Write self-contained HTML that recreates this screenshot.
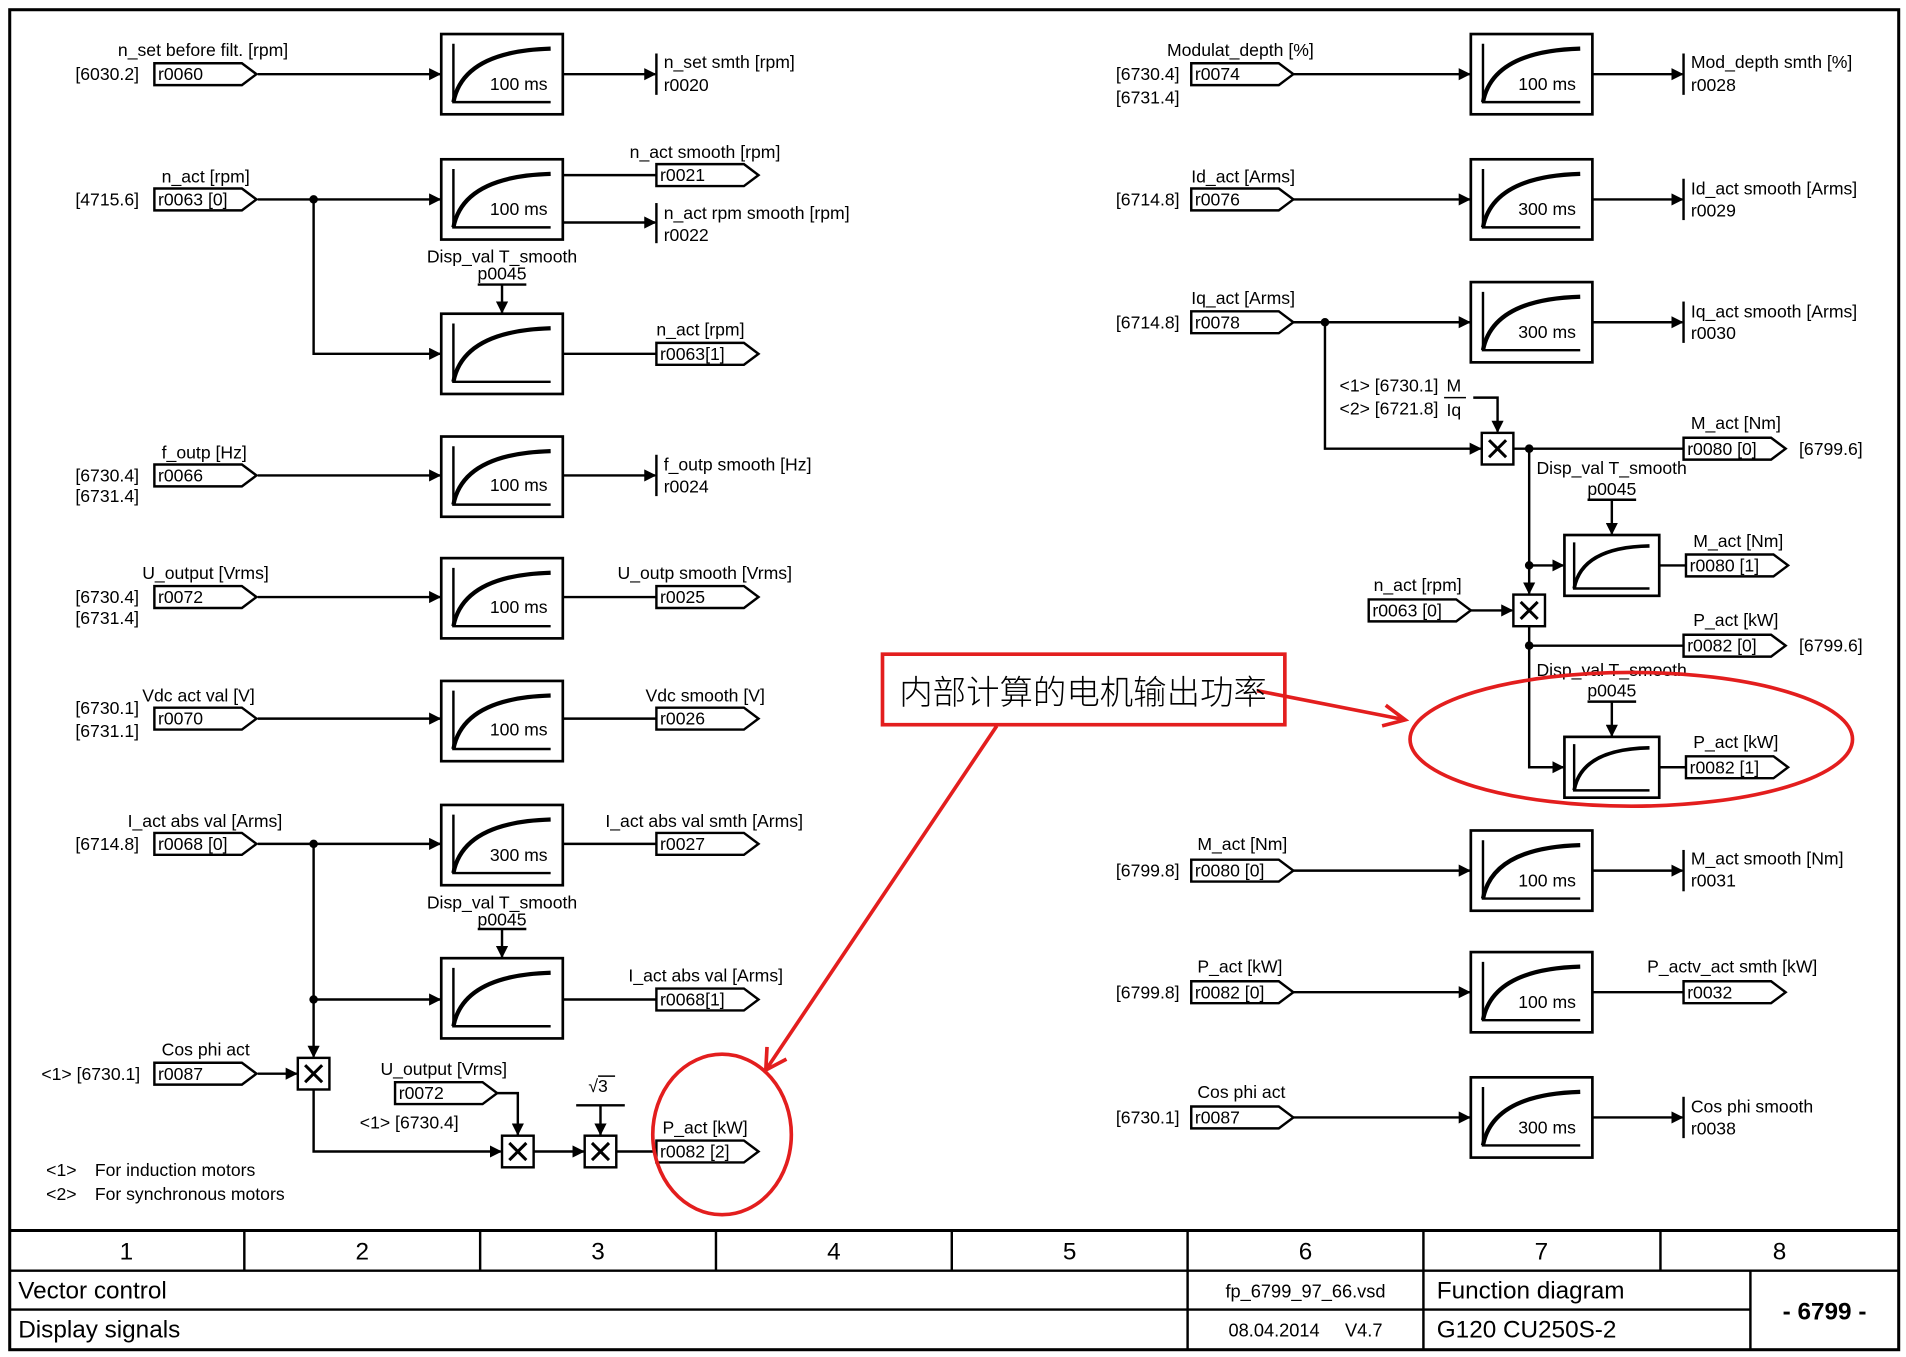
<!DOCTYPE html>
<html><head><meta charset="utf-8"><style>
html,body{margin:0;padding:0;background:#fff;}
svg{display:block;}
text{font-family:"Liberation Sans",Arial,sans-serif;font-size:14.5px;fill:#000;}
.ft{font-size:20px;}
</style></head><body>
<svg width="1906" height="1357" viewBox="0 0 1568 1116" preserveAspectRatio="none" xmlns="http://www.w3.org/2000/svg">
<defs>
<marker id="a" markerWidth="10" markerHeight="10" refX="9" refY="5" orient="auto" markerUnits="userSpaceOnUse"><path d="M0,0 L10,5 L0,10 Z" fill="#000"/></marker>
<g id="blk"><rect x="0" y="0" width="100" height="66" fill="#fff" stroke="#000" stroke-width="2.2"/><path d="M10,8 V56 H90" fill="none" stroke="#000" stroke-width="2"/><path d="M10,56 Q18,14 90,12" fill="none" stroke="#000" stroke-width="3.5"/></g>
<g id="sblk"><rect x="0" y="0" width="78" height="50" fill="#fff" stroke="#000" stroke-width="2.2"/><path d="M8,6 V44 H70" fill="none" stroke="#000" stroke-width="2"/><path d="M8,44 Q14,10 70,9" fill="none" stroke="#000" stroke-width="3"/></g>
<path id="tag" d="M0,0 H72 L84,9 L72,18 H0 Z" fill="#fff" stroke="#000" stroke-width="2"/>
<g id="mul"><rect x="-13" y="-13" width="26" height="26" fill="#fff" stroke="#000" stroke-width="2"/><path d="M-7,-7 L7,7 M7,-7 L-7,7" stroke="#000" stroke-width="2.5"/></g>
</defs>
<rect x="8" y="8" width="1554" height="1102" fill="none" stroke="#000" stroke-width="2.5"/>
<g stroke="#000" stroke-width="2" fill="none">
<line x1="212" y1="61" x2="362" y2="61" marker-end="url(#a)"/>
<line x1="463" y1="61" x2="539" y2="61" marker-end="url(#a)"/>
<line x1="212" y1="164" x2="362" y2="164" marker-end="url(#a)"/>
<line x1="463" y1="144" x2="540" y2="144"/>
<line x1="463" y1="183" x2="539" y2="183" marker-end="url(#a)"/>
<line x1="393" y1="234" x2="433" y2="234"/><line x1="413" y1="234" x2="413" y2="257" marker-end="url(#a)"/>
<polyline points="258,164 258,291 362,291" marker-end="url(#a)"/>
<line x1="463" y1="291" x2="540" y2="291"/>
<line x1="212" y1="391" x2="362" y2="391" marker-end="url(#a)"/>
<line x1="463" y1="391" x2="539" y2="391" marker-end="url(#a)"/>
<line x1="212" y1="491" x2="362" y2="491" marker-end="url(#a)"/>
<line x1="463" y1="491" x2="540" y2="491"/>
<line x1="212" y1="591" x2="362" y2="591" marker-end="url(#a)"/>
<line x1="463" y1="591" x2="540" y2="591"/>
<line x1="212" y1="694" x2="362" y2="694" marker-end="url(#a)"/>
<line x1="463" y1="694" x2="540" y2="694"/>
<line x1="393" y1="764" x2="433" y2="764"/><line x1="413" y1="764" x2="413" y2="787" marker-end="url(#a)"/>
<line x1="258" y1="694" x2="258" y2="869" marker-end="url(#a)"/>
<line x1="258" y1="822" x2="362" y2="822" marker-end="url(#a)"/>
<line x1="463" y1="822" x2="540" y2="822"/>
<line x1="212" y1="883" x2="244" y2="883" marker-end="url(#a)"/>
<polyline points="258,896 258,947 412,947" marker-end="url(#a)"/>
<polyline points="409,899 426,899 426,933" marker-end="url(#a)"/>
<line x1="439" y1="947" x2="480" y2="947" marker-end="url(#a)"/>
<line x1="474" y1="909" x2="514" y2="909"/><line x1="494" y1="909" x2="494" y2="933" marker-end="url(#a)"/>
<line x1="507" y1="947" x2="540" y2="947"/>
<line x1="540" y1="44" x2="540" y2="78"/><line x1="540" y1="167" x2="540" y2="200"/><line x1="540" y1="374" x2="540" y2="408"/>
<line x1="1385" y1="44" x2="1385" y2="78"/><line x1="1385" y1="147" x2="1385" y2="181"/><line x1="1385" y1="248" x2="1385" y2="282"/>
<line x1="1385" y1="699" x2="1385" y2="733"/><line x1="1385" y1="902" x2="1385" y2="936"/>
<line x1="1064" y1="61" x2="1209" y2="61" marker-end="url(#a)"/>
<line x1="1308" y1="61" x2="1384" y2="61" marker-end="url(#a)"/>
<line x1="1064" y1="164" x2="1209" y2="164" marker-end="url(#a)"/>
<line x1="1308" y1="164" x2="1384" y2="164" marker-end="url(#a)"/>
<line x1="1064" y1="265" x2="1209" y2="265" marker-end="url(#a)"/>
<line x1="1308" y1="265" x2="1384" y2="265" marker-end="url(#a)"/>
<polyline points="1090,265 1090,369 1218,369" marker-end="url(#a)"/>
<line x1="1188" y1="327" x2="1206" y2="327" stroke-width="1.3"/>
<polyline points="1212,327 1232,327 1232,355" marker-end="url(#a)"/>
<line x1="1245" y1="369" x2="1385" y2="369"/>
<line x1="1306" y1="411" x2="1346" y2="411"/><line x1="1326" y1="411" x2="1326" y2="439" marker-end="url(#a)"/>
<line x1="1258" y1="369" x2="1258" y2="488" marker-end="url(#a)"/>
<line x1="1258" y1="465" x2="1286" y2="465" marker-end="url(#a)"/>
<line x1="1365" y1="465" x2="1387" y2="465"/>
<line x1="1210" y1="502" x2="1244" y2="502" marker-end="url(#a)"/>
<polyline points="1258,515 1258,631 1286,631" marker-end="url(#a)"/>
<line x1="1258" y1="531" x2="1385" y2="531"/>
<line x1="1306" y1="577" x2="1346" y2="577"/><line x1="1326" y1="577" x2="1326" y2="605" marker-end="url(#a)"/>
<line x1="1365" y1="631" x2="1387" y2="631"/>
<line x1="1064" y1="716" x2="1209" y2="716" marker-end="url(#a)"/>
<line x1="1308" y1="716" x2="1384" y2="716" marker-end="url(#a)"/>
<line x1="1064" y1="816" x2="1209" y2="816" marker-end="url(#a)"/>
<line x1="1308" y1="816" x2="1385" y2="816"/>
<line x1="1064" y1="919" x2="1209" y2="919" marker-end="url(#a)"/>
<line x1="1308" y1="919" x2="1384" y2="919" marker-end="url(#a)"/>
</g>
<g fill="#000">
<circle cx="258" cy="164" r="3.5"/><circle cx="258" cy="694" r="3.5"/><circle cx="258" cy="822" r="3.5"/>
<circle cx="1090" cy="265" r="3.5"/><circle cx="1258" cy="369" r="3.5"/><circle cx="1258" cy="465" r="3.5"/><circle cx="1258" cy="531" r="3.5"/>
</g>
<use href="#blk" x="363" y="28"/><use href="#blk" x="363" y="131"/><use href="#blk" x="363" y="258"/>
<use href="#blk" x="363" y="359"/><use href="#blk" x="363" y="459"/><use href="#blk" x="363" y="560"/>
<use href="#blk" x="363" y="662"/><use href="#blk" x="363" y="788"/>
<use href="#blk" x="1210" y="28"/><use href="#blk" x="1210" y="131"/><use href="#blk" x="1210" y="232"/>
<use href="#blk" x="1210" y="683"/><use href="#blk" x="1210" y="783"/><use href="#blk" x="1210" y="886"/>
<use href="#sblk" x="1287" y="440"/><use href="#sblk" x="1287" y="606"/>
<use href="#mul" x="258" y="883"/><use href="#mul" x="426" y="947"/><use href="#mul" x="494" y="947"/>
<use href="#mul" x="1232" y="369"/><use href="#mul" x="1258" y="502"/>
<g>
<text x="403" y="74">100 ms</text><text x="403" y="177">100 ms</text><text x="403" y="404">100 ms</text>
<text x="403" y="504">100 ms</text><text x="403" y="605">100 ms</text><text x="403" y="708">300 ms</text>
<text x="1249" y="74">100 ms</text><text x="1249" y="177">300 ms</text><text x="1249" y="278">300 ms</text>
<text x="1249" y="729">100 ms</text><text x="1249" y="829">100 ms</text><text x="1249" y="932">300 ms</text>
</g>
<use href="#tag" x="127" y="52"/><use href="#tag" x="127" y="155"/><use href="#tag" x="127" y="382"/>
<use href="#tag" x="127" y="482"/><use href="#tag" x="127" y="582"/><use href="#tag" x="127" y="685"/>
<use href="#tag" x="127" y="874"/><use href="#tag" x="325" y="890"/>
<use href="#tag" x="540" y="135"/><use href="#tag" x="540" y="282"/><use href="#tag" x="540" y="482"/>
<use href="#tag" x="540" y="582"/><use href="#tag" x="540" y="685"/><use href="#tag" x="540" y="813"/><use href="#tag" x="540" y="938"/>
<use href="#tag" x="980" y="52"/><use href="#tag" x="980" y="155"/><use href="#tag" x="980" y="256"/>
<use href="#tag" x="980" y="707"/><use href="#tag" x="980" y="807"/><use href="#tag" x="980" y="910"/>
<use href="#tag" x="1126" y="493"/>
<use href="#tag" x="1385" y="360"/><use href="#tag" x="1387" y="456"/><use href="#tag" x="1385" y="522"/><use href="#tag" x="1387" y="622"/><use href="#tag" x="1385" y="807"/>
<g>
<text x="130" y="66">r0060</text><text x="130" y="169">r0063 [0]</text><text x="130" y="396">r0066</text>
<text x="130" y="496">r0072</text><text x="130" y="596">r0070</text><text x="130" y="699">r0068 [0]</text>
<text x="130" y="888">r0087</text><text x="328" y="904">r0072</text>
<text x="543" y="149">r0021</text><text x="543" y="296">r0063[1]</text><text x="543" y="496">r0025</text>
<text x="543" y="596">r0026</text><text x="543" y="699">r0027</text><text x="543" y="827">r0068[1]</text><text x="543" y="952">r0082 [2]</text>
<text x="983" y="66">r0074</text><text x="983" y="169">r0076</text><text x="983" y="270">r0078</text>
<text x="983" y="721">r0080 [0]</text><text x="983" y="821">r0082 [0]</text><text x="983" y="924">r0087</text>
<text x="1129" y="507">r0063 [0]</text>
<text x="1388" y="374">r0080 [0]</text><text x="1390" y="470">r0080 [1]</text><text x="1388" y="536">r0082 [0]</text><text x="1390" y="636">r0082 [1]</text><text x="1388" y="821">r0032</text>
</g>
<g>
<text x="97" y="46">n_set before filt. [rpm]</text><text x="62" y="66">[6030.2]</text>
<text x="546" y="56">n_set smth [rpm]</text><text x="546" y="75">r0020</text>
<text x="133" y="150">n_act [rpm]</text><text x="62" y="169">[4715.6]</text>
<text x="518" y="130">n_act smooth [rpm]</text>
<text x="546" y="180">n_act rpm smooth [rpm]</text><text x="546" y="198">r0022</text>
<text x="413" y="216" text-anchor="middle">Disp_val T_smooth</text><text x="413" y="230" text-anchor="middle">p0045</text>
<text x="540" y="276">n_act [rpm]</text>
<text x="133" y="377">f_outp [Hz]</text><text x="62" y="396">[6730.4]</text><text x="62" y="413">[6731.4]</text>
<text x="546" y="387">f_outp smooth [Hz]</text><text x="546" y="405">r0024</text>
<text x="117" y="476">U_output [Vrms]</text><text x="62" y="496">[6730.4]</text><text x="62" y="513">[6731.4]</text>
<text x="508" y="476">U_outp smooth [Vrms]</text>
<text x="117" y="577">Vdc act val [V]</text><text x="62" y="587">[6730.1]</text><text x="62" y="606">[6731.1]</text>
<text x="531" y="577">Vdc smooth [V]</text>
<text x="105" y="680">I_act abs val [Arms]</text><text x="62" y="699">[6714.8]</text>
<text x="498" y="680">I_act abs val smth [Arms]</text>
<text x="413" y="747" text-anchor="middle">Disp_val T_smooth</text><text x="413" y="761" text-anchor="middle">p0045</text>
<text x="517" y="807">I_act abs val [Arms]</text>
<text x="133" y="868">Cos phi act</text><text x="34" y="888">&lt;1&gt; [6730.1]</text>
<text x="313" y="884">U_output [Vrms]</text><text x="296" y="928">&lt;1&gt; [6730.4]</text>
<text x="484" y="898">√3</text><line x1="492" y1="885" x2="506" y2="885" stroke="#000" stroke-width="1.2"/>
<text x="545" y="932">P_act [kW]</text>
<text x="38" y="967">&lt;1&gt;</text><text x="78" y="967">For induction motors</text>
<text x="38" y="987">&lt;2&gt;</text><text x="78" y="987">For synchronous motors</text>
</g>
<g>
<text x="960" y="46">Modulat_depth [%]</text><text x="918" y="66">[6730.4]</text><text x="918" y="85">[6731.4]</text>
<text x="1391" y="56">Mod_depth smth [%]</text><text x="1391" y="75">r0028</text>
<text x="980" y="150">Id_act [Arms]</text><text x="918" y="169">[6714.8]</text>
<text x="1391" y="160">Id_act smooth [Arms]</text><text x="1391" y="178">r0029</text>
<text x="980" y="250">Iq_act [Arms]</text><text x="918" y="270">[6714.8]</text>
<text x="1391" y="261">Iq_act smooth [Arms]</text><text x="1391" y="279">r0030</text>
<text x="1102" y="322">&lt;1&gt; [6730.1]</text><text x="1190" y="322">M</text>
<text x="1102" y="341">&lt;2&gt; [6721.8]</text><text x="1190" y="342">Iq</text>
<text x="1391" y="353">M_act [Nm]</text><text x="1480" y="374">[6799.6]</text>
<text x="1264" y="390">Disp_val T_smooth</text><text x="1326" y="407" text-anchor="middle">p0045</text>
<text x="1393" y="450">M_act [Nm]</text>
<text x="1130" y="486">n_act [rpm]</text>
<text x="1393" y="515">P_act [kW]</text><text x="1480" y="536">[6799.6]</text>
<text x="1264" y="556">Disp_val T_smooth</text><text x="1326" y="573" text-anchor="middle">p0045</text>
<text x="1393" y="615">P_act [kW]</text>
<text x="985" y="699">M_act [Nm]</text><text x="918" y="721">[6799.8]</text>
<text x="1391" y="711">M_act smooth [Nm]</text><text x="1391" y="729">r0031</text>
<text x="985" y="800">P_act [kW]</text><text x="918" y="821">[6799.8]</text>
<text x="1355" y="800">P_actv_act smth [kW]</text>
<text x="985" y="903">Cos phi act</text><text x="918" y="924">[6730.1]</text>
<text x="1391" y="915">Cos phi smooth</text><text x="1391" y="933">r0038</text>
</g>
<g stroke="#e31e1e" stroke-width="3" fill="none">
<ellipse cx="594" cy="933" rx="57" ry="66"/>
<ellipse cx="1342" cy="608" rx="182" ry="55"/>
<rect x="726" y="538" width="331" height="58" fill="#fff"/>
<line x1="1034" y1="568" x2="1156" y2="592"/><path d="M1140,580 L1156,592 L1137,597"/>
<line x1="820" y1="597" x2="630" y2="880"/><path d="M631,861 L630,880 L647,871"/>
</g>
<text x="891" y="579" text-anchor="middle" style="font-family:'Liberation Sans','Noto Sans CJK SC',sans-serif;font-size:27.5px;font-weight:300">内部计算的电机输出功率</text>
<g stroke="#000" fill="none">
<line x1="8" y1="1012" x2="1562" y2="1012" stroke-width="2.5"/>
<line x1="8" y1="1045" x2="1562" y2="1045" stroke-width="2"/>
<line x1="8" y1="1077" x2="1440" y2="1077" stroke-width="2"/>
<g stroke-width="2"><line x1="201" y1="1012" x2="201" y2="1045"/><line x1="395" y1="1012" x2="395" y2="1045"/><line x1="589" y1="1012" x2="589" y2="1045"/><line x1="783" y1="1012" x2="783" y2="1045"/>
<line x1="977" y1="1012" x2="977" y2="1110"/><line x1="1171" y1="1012" x2="1171" y2="1110"/><line x1="1366" y1="1012" x2="1366" y2="1045"/><line x1="1440" y1="1045" x2="1440" y2="1110"/></g>
</g>
<g>
<text class="ft" x="104" y="1036" text-anchor="middle">1</text><text class="ft" x="298" y="1036" text-anchor="middle">2</text><text class="ft" x="492" y="1036" text-anchor="middle">3</text><text class="ft" x="686" y="1036" text-anchor="middle">4</text>
<text class="ft" x="880" y="1036" text-anchor="middle">5</text><text class="ft" x="1074" y="1036" text-anchor="middle">6</text><text class="ft" x="1268" y="1036" text-anchor="middle">7</text><text class="ft" x="1464" y="1036" text-anchor="middle">8</text>
<text class="ft" x="15" y="1068">Vector control</text><text class="ft" x="15" y="1100">Display signals</text>
<text x="1074" y="1067" text-anchor="middle" style="font-size:15px">fp_6799_97_66.vsd</text>
<text x="1074" y="1099" text-anchor="middle" style="font-size:15px">08.04.2014&#160;&#160;&#160;&#160;&#160;V4.7</text>
<text class="ft" x="1182" y="1068">Function diagram</text><text class="ft" x="1182" y="1100">G120 CU250S-2</text>
<text x="1501" y="1085" text-anchor="middle" style="font-size:20px;font-weight:bold">- 6799 -</text>
</g>
</svg>
</body></html>
